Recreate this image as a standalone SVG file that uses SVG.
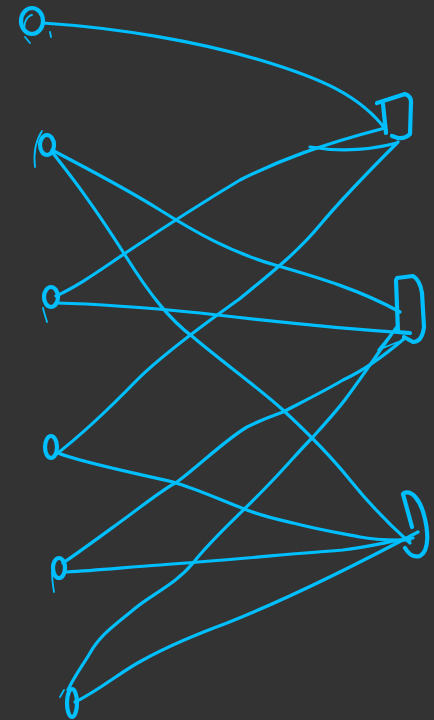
<svg xmlns="http://www.w3.org/2000/svg" width="434" height="720" viewBox="0 0 434 720">
<style>
.e{fill:none;stroke:#00bfff;stroke-width:3.2;stroke-linecap:round;stroke-linejoin:round}
.n{fill:none;stroke:#00bfff;stroke-width:4.2;stroke-linecap:round;stroke-linejoin:round}
.t{fill:none;stroke:#00bfff;stroke-width:1.8;stroke-linecap:round}
</style>
<rect width="434" height="720" fill="#333333"/>
<g id="connectors">
<path class="e" d="M43,23 C120,28 200,42 260,60 C320,78 360,95 386,130"/>
<path class="e" d="M52,150 C80,165 120,185 160,210 C195,232 230,252 275,265 C320,278 360,290 400,312"/>
<path class="e" d="M52,152 C70,175 90,200 125,255 C150,295 170,320 193,337 C220,360 255,385 283,410 C310,435 330,455 350,480 C370,505 390,525 410,543"/>
<path class="e" d="M56,296 C80,285 100,270 130,250 C160,230 190,210 240,180 C280,160 320,145 385,128"/>
<path class="e" d="M56,303 C100,304 150,308 200,313 C260,320 330,328 408,333"/>
<path class="e" d="M54,456 C75,440 100,418 137,380 C165,352 210,320 238,300 C265,278 295,255 320,225 C345,195 370,170 398,142"/>
<path class="e" d="M310,147 C340,152 370,150 397,143"/>
<path class="e" d="M58,453 C80,462 130,472 173,482 C200,490 225,502 247,510 C265,517 280,520 293,523 C320,530 340,533 360,537 C380,541 395,540 410,540"/>
<path class="e" d="M63,563 C85,548 105,533 127,517 C150,500 165,488 177,482 C200,465 225,440 247,427 C265,418 275,415 283,412 C310,398 330,388 343,380 C365,370 385,355 405,338"/>
<path class="e" d="M67,572 C100,570 130,567 160,565 C230,560 300,553 343,550 C370,547 395,540 413,538"/>
<path class="e" d="M68,690 C75,675 83,665 90,653 C100,635 115,625 133,610 C150,595 175,585 193,563 C215,535 240,515 273,480 C290,462 300,450 313,437 C330,418 340,407 347,397 C360,380 380,350 396,328"/>
<path class="e" d="M75,702 C100,690 120,672 143,660 C170,645 200,633 227,623 C290,598 350,568 418,532"/>
<path class="t" d="M378,350 L396,328 M378,350 L398,342"/>
</g>
<g id="L1">
<ellipse class="n" cx="32" cy="21" rx="11" ry="13"/>
<path class="t" d="M25,31 C23,23 27,16 32,15 M25,37 L30,43 M50,32 L51,37"/>
</g>
<g id="L2">
<ellipse class="n" cx="47" cy="145" rx="7" ry="10"/>
<path class="t" d="M42,131 C36,140 33,150 35,167"/>
</g>
<g id="L3">
<ellipse class="n" cx="51" cy="297" rx="7" ry="10"/>
<path class="t" d="M43,308 C44,313 46,318 47,322"/>
</g>
<g id="L4">
<ellipse class="n" cx="51" cy="447" rx="6" ry="11"/>
</g>
<g id="L5">
<ellipse class="n" cx="59" cy="568" rx="6" ry="10"/>
<path class="t" d="M52,572 C52,580 53,586 54,592"/>
</g>
<g id="L6">
<ellipse class="n" cx="72" cy="703" rx="5" ry="14"/>
<path class="t" d="M60,697 L64,690"/>
</g>
<g id="R1">
<path class="n" d="M377,103 L405,94 Q411,96 411,102 L410,134 Q405,139 398,138 L392,136"/>
<path class="n" d="M383,104 L386,133"/>
</g>
<g id="R2">
<path class="n" d="M397,278 L413,276 Q420,280 422,293 L424,327 Q422,342 413,342 L404,337"/>
<path class="n" d="M396,280 L398,332 M397,332 L410,333"/>
</g>
<g id="R3">
<path class="n" d="M403,494 L412,527"/>
<path class="n" d="M404,493 C412,490 420,500 424,515 C428,530 430,550 420,556 C413,558 408,553 405,548"/>
</g>
</svg>
